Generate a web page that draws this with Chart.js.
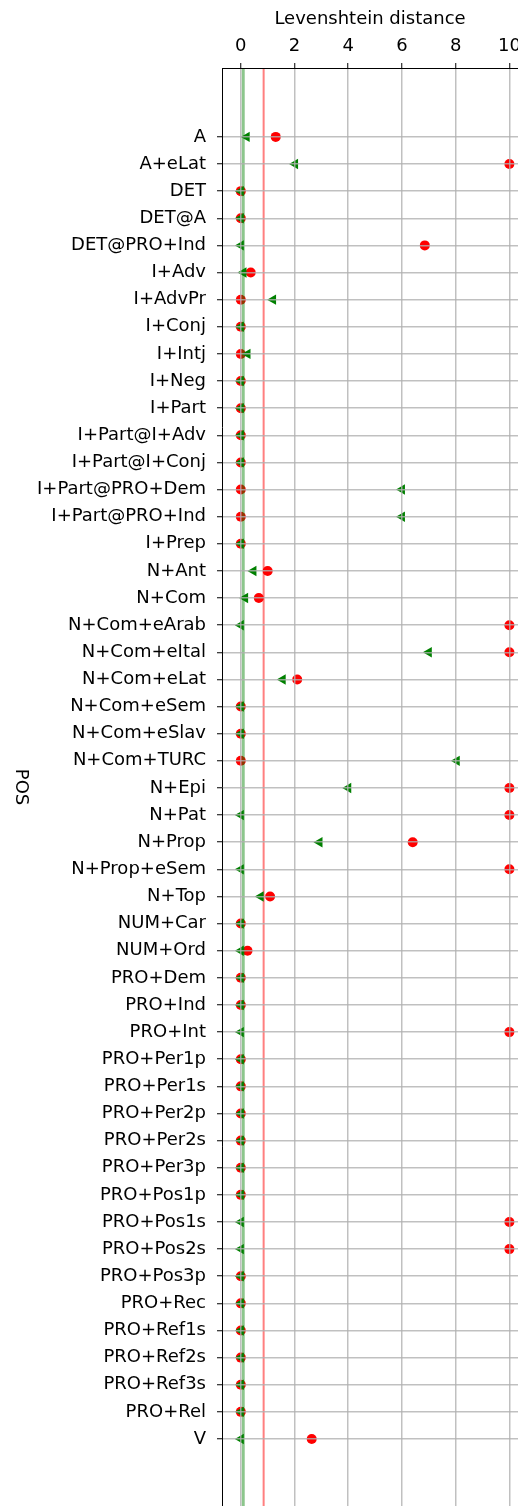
<!DOCTYPE html>
<html>
<head>
<meta charset="utf-8">
<script src="https://cdn.jsdelivr.net/npm/chart.js@4/dist/chart.umd.min.js"></script>
<style>
  body { margin: 0; background: #fff; }
  canvas { display: block; }
</style>
</head>
<body>
<canvas id="posChart" width="518" height="1506"></canvas>
<script>
// categories (top to bottom)
var categories = [
  "A", "A+eLat", "DET", "DET@A", "DET@PRO+Ind", "I+Adv", "I+AdvPr", "I+Conj",
  "I+Intj", "I+Neg", "I+Part", "I+Part@I+Adv", "I+Part@I+Conj", "I+Part@PRO+Dem",
  "I+Part@PRO+Ind", "I+Prep", "N+Ant", "N+Com", "N+Com+eArab", "N+Com+eItal",
  "N+Com+eLat", "N+Com+eSem", "N+Com+eSlav", "N+Com+TURC", "N+Epi", "N+Pat",
  "N+Prop", "N+Prop+eSem", "N+Top", "NUM+Car", "NUM+Ord", "PRO+Dem", "PRO+Ind",
  "PRO+Int", "PRO+Per1p", "PRO+Per1s", "PRO+Per2p", "PRO+Per2s", "PRO+Per3p",
  "PRO+Pos1p", "PRO+Pos1s", "PRO+Pos2s", "PRO+Pos3p", "PRO+Rec", "PRO+Ref1s",
  "PRO+Ref2s", "PRO+Ref3s", "PRO+Rel", "V"
];

// red circles
var redValues = [
  1.3, 10, 0, 0, 6.85, 0.37, 0, 0,
  0, 0, 0, 0, 0, 0,
  0, 0, 1.0, 0.67, 10, 10,
  2.1, 0, 0, 0, 10, 10,
  6.4, 10, 1.09, 0, 0.25, 0, 0,
  10, 0, 0, 0, 0, 0,
  0, 10, 10, 0, 0, 0,
  0, 0, 0, 2.64
];

// green triangles
var greenValues = [
  0.22, 2.02, 0, 0, 0, 0.1, 1.2, 0,
  0.25, 0, 0, 0, 0, 6.0,
  6.0, 0, 0.47, 0.16, 0, 7.0,
  1.56, 0, 0, 8.04, 4.0, 0,
  2.93, 0, 0.74, 0, 0, 0, 0,
  0, 0, 0, 0, 0, 0,
  0, 0, 0, 0, 0, 0,
  0, 0, 0, 0
];

var xTicks = [0, 2, 4, 6, 8, 10];
var greenLine = 0.09;
var redLine = 0.85;

var yMin = -2.54, yMax = 50.47;
var font = "'DejaVu Sans', sans-serif";
var gridColor = "rgba(176,176,176,0.8)";

function points(vals) {
  return vals.map(function (v, i) { return { x: v, y: i }; });
}

function vline(v) {
  return [{ x: v, y: yMin }, { x: v, y: yMax }];
}

var yTitle = {
  id: "yTitle",
  afterDraw: function (chart) {
    var ctx = chart.ctx;
    ctx.save();
    ctx.translate(21, (chart.chartArea.top + chart.chartArea.bottom) / 2);
    ctx.rotate(Math.PI / 2);
    ctx.font = "18px " + font;
    ctx.fillStyle = "#000";
    ctx.textAlign = "center";
    ctx.textBaseline = "middle";
    ctx.fillText("POS", 0, 0);
    ctx.restore();
  }
};

var ctx = document.getElementById("posChart").getContext("2d");
var chart = new Chart(ctx, {
  type: "scatter",
  data: {
    datasets: [
      {
        label: "green",
        data: points(greenValues),
        pointStyle: "triangle",
        rotation: -90,
        pointRadius: 6,
        backgroundColor: "#008000",
        borderColor: "#008000",
        borderWidth: 0,
        order: 0
      },
      {
        label: "greenLine",
        data: vline(greenLine),
        showLine: true,
        pointRadius: 0,
        borderColor: "rgba(0,128,0,0.45)",
        borderWidth: 3,
        order: 1
      },
      {
        label: "redLine",
        data: vline(redLine),
        showLine: true,
        pointRadius: 0,
        borderColor: "rgba(255,0,0,0.5)",
        borderWidth: 2,
        order: 1
      },
      {
        label: "red",
        data: points(redValues),
        pointStyle: "circle",
        pointRadius: 5,
        backgroundColor: "#ff0000",
        borderColor: "#ff0000",
        borderWidth: 0,
        order: 2
      }
    ]
  },
  options: {
    responsive: false,
    animation: false,
    layout: { padding: 0, autoPadding: false },
    plugins: {
      legend: { display: false },
      tooltip: { enabled: false }
    },
    scales: {
      x: {
        type: "linear",
        position: "top",
        min: -0.70,
        max: 10.32,
        afterBuildTicks: function (scale) {
          scale.ticks = xTicks.map(function (v) { return { value: v }; });
        },
        afterFit: function (scale) {
          scale.height = 68;
          scale.paddingLeft = 0;
          scale.paddingRight = 0;
        },
        grid: {
          z: 1,
          color: gridColor,
          lineWidth: 1.5,
          tickColor: "#000",
          tickWidth: 1,
          tickLength: 5
        },
        border: { color: "#000", width: 1, z: 2 },
        ticks: {
          color: "#000",
          padding: 6,
          maxRotation: 0,
          font: { family: font, size: 18 }
        },
        title: {
          display: true,
          text: "Levenshtein distance",
          color: "#000",
          padding: { top: 9, bottom: 0 },
          font: { family: font, size: 18 }
        }
      },
      y: {
        type: "linear",
        reverse: true,
        min: yMin,
        max: yMax,
        afterBuildTicks: function (scale) {
          scale.ticks = categories.map(function (c, i) { return { value: i }; });
        },
        afterFit: function (scale) {
          scale.width = 222;
          scale.paddingTop = 0;
          scale.paddingBottom = 0;
        },
        grid: {
          z: 1,
          color: gridColor,
          lineWidth: 1.5,
          tickColor: "#000",
          tickWidth: 1,
          tickLength: 5
        },
        border: { color: "#000", width: 1, z: 2 },
        ticks: {
          autoSkip: false,
          color: "#000",
          padding: 11,
          font: { family: font, size: 18 },
          callback: function (v) { return categories[v]; }
        }
      }
    }
  },
  plugins: [yTitle]
});
</script>
</body>
</html>
